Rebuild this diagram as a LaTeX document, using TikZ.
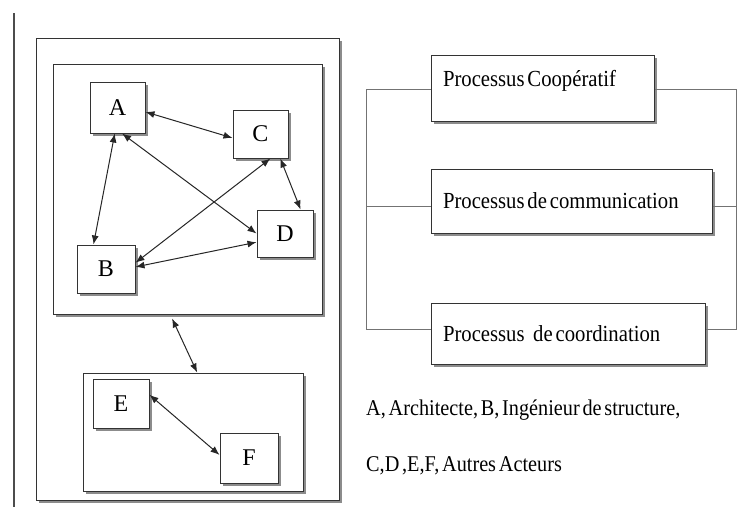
\documentclass[tikz,border=0pt]{standalone}
\usepackage{fontspec}
\setmainfont{Liberation Serif}
\newfontfamily\narrowserif[FakeStretch=0.9,WordSpace=0.55]{Liberation Serif}
\usetikzlibrary{arrows.meta,shadows}
\begin{document}
\begin{tikzpicture}[x=1pt,y=-1pt,
  box/.style={draw=black!80, line width=1pt, fill=white,
    drop shadow={shadow xshift=2.5pt, shadow yshift=-2.5pt, fill=black!45, opacity=1}},
  actor/.style={box, inner sep=0pt, font=\fontsize{24}{24}\selectfont},
  proc/.style={box, inner xsep=12pt, align=flush left, font=\narrowserif\fontsize{23}{24}\selectfont},
  link/.style={line width=1pt, black!85, {Latex[length=9pt,width=7pt]}-{Latex[length=9pt,width=7pt]}},
  bus/.style={line width=1pt, black!55},
  legend/.style={anchor=west, inner sep=0pt, font=\narrowserif\fontsize{22.5}{24}\selectfont}
]
\useasboundingbox (0,0) rectangle (745,507);

% margin rule on the left
\draw[line width=1.6pt, black!70] (14,13) -- (14,507);

% frames of the actor groups
\node[box, minimum width=303pt, minimum height=462pt] (outer) at (187.5,269) {};
\node[box, minimum width=269pt, minimum height=250pt] (grp1) at (187.5,189) {};
\node[box, minimum width=220pt, minimum height=118pt] (grp2) at (193,432) {};

% actors
\node[actor, minimum width=55pt, minimum height=51pt] (A) at (117.5,107.5) {A};
\node[actor, minimum width=55pt, minimum height=48pt] (C) at (260.5,134) {C};
\node[actor, minimum width=56pt, minimum height=47pt] (D) at (285,233.5) {D};
\node[actor, minimum width=58pt, minimum height=48pt] (B) at (106,269) {B};
\node[actor, minimum width=56pt, minimum height=49pt] (E) at (121,403.5) {E};
\node[actor, minimum width=58pt, minimum height=50pt] (F) at (249,458) {F};

% exchanges between actors
\draw[link] (A.-9) -- (C.-172);
\draw[link] (A.-96) -- (B.117);
\draw[link] (A.-80) -- (D.180);
\draw[link] (C.-68) -- (B.12);
\draw[link] (C.-51) -- (D.57);
\draw[link] (B.4) -- (D.-163);
\draw[link] (E.17) -- (F.174);
\draw[link] ([yshift=-4pt]grp1.-97) -- (grp2.86);

% processes
\node[proc, text width=199pt, minimum height=66pt, text height=15pt, text depth=19pt] (P1) at (542.5,88) {Processus Coopératif};
\node[proc, text width=257pt, minimum height=64pt] (P2) at (571.5,201) {Processus de communication};
\node[proc, text width=250pt, minimum height=61pt] (P3) at (568,333.5) {Processus\hspace{0.25em} de coordination};

% side buses joining the processes
\coordinate (lbus) at (366,0);
\coordinate (rbus) at (736,0);
\draw[bus] ([yshift=-1pt]P1.west) -- ([yshift=-1pt]P1.west -| lbus) -- ([yshift=4.5pt]P3.west -| lbus) -- ([yshift=4.5pt]P3.west);
\draw[bus] ([yshift=-5pt]P2.west) -- ([yshift=-5pt]P2.west -| lbus);
\draw[bus] ([yshift=-1pt]P1.east) -- ([yshift=-1pt]P1.east -| rbus) -- ([yshift=4.5pt]P3.east -| rbus) -- ([yshift=4.5pt]P3.east);
\draw[bus] ([yshift=-5pt]P2.east) -- ([yshift=-5pt]P2.east -| rbus);

% legend
\node[legend] (leg1) at (366,410) {A, Architecte, B, Ingénieur de structure,};
\node[legend] (leg2) at (366,466) {C,D ,E,F, Autres Acteurs};
\end{tikzpicture}
\end{document}
